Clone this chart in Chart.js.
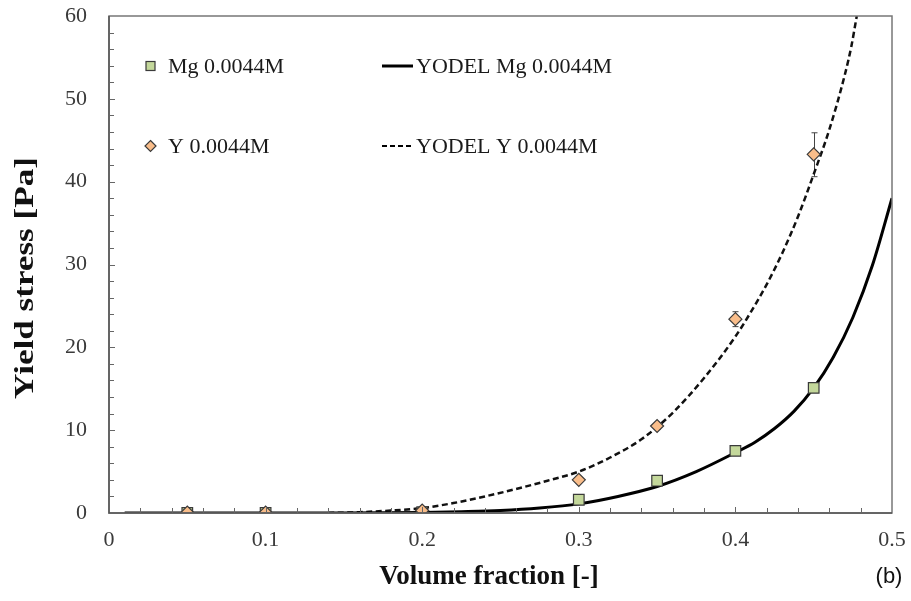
<!DOCTYPE html>
<html>
<head>
<meta charset="utf-8">
<script src="https://cdn.jsdelivr.net/npm/chart.js@4/dist/chart.umd.min.js"></script>
<style>
  html, body { margin: 0; padding: 0; background: #fff; }
  #wrap { width: 911px; height: 601px; position: relative; }
</style>
</head>
<body>
<div id="wrap"><canvas id="c" width="911" height="601"></canvas></div>
<script>
// Measured yield stress versus volume fraction
const volFrac  = [0.05, 0.1, 0.2, 0.3, 0.35, 0.4, 0.45];
const mgStress = [0, 0, 0.1, 1.6, 3.9, 7.5, 15.1];
const yStress  = [0.05, 0.05, 0.3, 4.0, 10.5, 23.4, 43.3];
const yErrUp   = [0, 0, 0, 0.2, 0.4, 0.9, 2.6];
const yErrDown = [0, 0, 0, 0.2, 0.4, 0.9, 2.7];

// YODEL model curves
const fitMgX = [0.01, 0.05, 0.1, 0.15, 0.2, 0.225, 0.25, 0.275, 0.3, 0.325, 0.35, 0.375, 0.4, 0.4125, 0.425, 0.4375, 0.45, 0.4625, 0.475, 0.4875, 0.5];
const fitMgY = [0, 0, 0, 0, 0.05, 0.15, 0.3, 0.6, 1.1, 2.0, 3.2, 5.0, 7.3, 8.55, 10.2, 12.3, 15.1, 18.8, 23.6, 29.9, 38.0];
const fitYX  = [0.14, 0.16, 0.18, 0.2, 0.22, 0.24, 0.26, 0.28, 0.3, 0.32, 0.34, 0.36, 0.38, 0.4, 0.41, 0.42, 0.43, 0.44, 0.45, 0.46, 0.47, 0.474, 0.4775];
const fitYY  = [0, 0.1, 0.3, 0.6, 1.2, 2.0, 2.9, 3.9, 5.0, 6.7, 8.9, 12.1, 16.3, 21.3, 24.3, 27.6, 31.4, 35.8, 40.9, 46.3, 53.0, 56.3, 60];

const xTickLabels = ['0', '0.1', '0.2', '0.3', '0.4', '0.5'];
const yTickLabels = ['0', '10', '20', '30', '40', '50', '60'];

const legendLabels = ['Mg 0.0044M', 'Y 0.0044M', 'YODEL Mg 0.0044M', 'YODEL Y 0.0044M'];
const xTitle = 'Volume fraction [-]';
const yTitle = 'Yield stress [Pa]';
const panelTag = '(b)';

const pts = (xs, ys) => xs.map((x, i) => ({ x: x, y: ys[i] }));

const SERIF = '"Liberation Serif", "Times New Roman", serif';
const GREEN = '#c4d89b';
const PEACH = '#f9bd8a';
const EDGE = '#3a3a3a';

// frame, inward minor ticks, error bars, legend, axis titles and panel tag
const decorations = {
  id: 'decorations',
  beforeDatasetsDraw(chart) {
    const ctx = chart.ctx;
    const xs = chart.scales.x, ys = chart.scales.y;
    ctx.save();
    ctx.strokeStyle = '#444';
    ctx.lineWidth = 1;
    volFrac.forEach((v, i) => {
      if (!yErrUp[i] && !yErrDown[i]) return;
      const px = Math.round(xs.getPixelForValue(v)) + 0.5;
      const top = ys.getPixelForValue(yStress[i] + yErrUp[i]);
      const bot = ys.getPixelForValue(yStress[i] - yErrDown[i]);
      ctx.beginPath();
      ctx.moveTo(px, top); ctx.lineTo(px, bot);
      ctx.moveTo(px - 3, top); ctx.lineTo(px + 3, top);
      ctx.moveTo(px - 3, bot); ctx.lineTo(px + 3, bot);
      ctx.stroke();
    });
    ctx.restore();
  },
  afterDraw(chart) {
    const ctx = chart.ctx;
    const a = chart.chartArea;
    const xs = chart.scales.x, ys = chart.scales.y;
    ctx.save();
    // plot frame
    ctx.strokeStyle = '#777';
    ctx.lineWidth = 1.5;
    ctx.strokeRect(a.left, a.top, a.right - a.left, a.bottom - a.top);
    ctx.strokeStyle = '#555';
    ctx.beginPath();
    ctx.moveTo(a.left, a.top); ctx.lineTo(a.left, a.bottom); ctx.lineTo(a.right, a.bottom);
    ctx.stroke();
    // inward ticks
    ctx.lineWidth = 1;
    ctx.strokeStyle = '#666';
    ctx.beginPath();
    for (let k = 1; k < 30; k++) {
      const py = Math.round(ys.getPixelForValue(k * 2)) + 0.5;
      const len = (k % 5 === 0) ? 6 : 5;
      ctx.moveTo(a.left, py); ctx.lineTo(a.left + len, py);
    }
    for (let k = 1; k < 25; k++) {
      const px = Math.round(xs.getPixelForValue(k * 0.02)) + 0.5;
      const len = (k % 5 === 0) ? 6 : 5;
      ctx.moveTo(px, a.bottom); ctx.lineTo(px, a.bottom - len);
    }
    ctx.stroke();

    // legend
    ctx.font = '22px ' + SERIF;
    ctx.textBaseline = 'middle';
    ctx.textAlign = 'left';
    const row1 = 66, row2 = 146;
    ctx.fillStyle = GREEN; ctx.strokeStyle = EDGE; ctx.lineWidth = 1.2;
    ctx.fillRect(146, row1 - 4.5, 9, 9); ctx.strokeRect(146, row1 - 4.5, 9, 9);
    ctx.fillStyle = PEACH;
    ctx.beginPath();
    ctx.moveTo(150.5, row2 - 5.5); ctx.lineTo(156, row2); ctx.lineTo(150.5, row2 + 5.5); ctx.lineTo(145, row2);
    ctx.closePath(); ctx.fill(); ctx.stroke();
    ctx.strokeStyle = '#000';
    ctx.lineWidth = 3;
    ctx.beginPath(); ctx.moveTo(382, row1); ctx.lineTo(413, row1); ctx.stroke();
    ctx.lineWidth = 2;
    ctx.setLineDash([5, 3]);
    ctx.beginPath(); ctx.moveTo(382, row2); ctx.lineTo(414, row2); ctx.stroke();
    ctx.setLineDash([]);
    ctx.fillStyle = '#1a1a1a';
    ctx.fillText(legendLabels[0], 168, row1 + 1);
    ctx.fillText(legendLabels[1], 168, row2 + 1);
    ctx.fillText(legendLabels[2], 416, row1 + 1);
    ctx.fillText(legendLabels[3], 416, row2 + 1);

    // axis titles
    ctx.fillStyle = '#111';
    ctx.textAlign = 'center';
    ctx.font = 'bold 27px ' + SERIF;
    ctx.fillText(xTitle, 489, 577);
    ctx.save();
    ctx.translate(26, 278);
    ctx.rotate(-Math.PI / 2);
    ctx.scale(1.3, 1);
    ctx.fillText(yTitle, 0, 0);
    ctx.restore();

    // panel tag
    ctx.font = '22px "Liberation Sans", Arial, sans-serif';
    ctx.fillText(panelTag, 889, 577);
    ctx.restore();
  }
};

new Chart(document.getElementById('c'), {
  type: 'scatter',
  data: {
    datasets: [
      {
        label: legendLabels[1],
        data: pts(volFrac, yStress),
        pointStyle: 'rectRot',
        pointRadius: 6.5,
        pointBackgroundColor: PEACH,
        pointBorderColor: EDGE,
        pointBorderWidth: 1.2,
        showLine: false
      },
      {
        label: legendLabels[0],
        data: pts(volFrac, mgStress),
        pointStyle: 'rect',
        pointRadius: 7.5,
        pointBackgroundColor: GREEN,
        pointBorderColor: EDGE,
        pointBorderWidth: 1.2,
        showLine: false
      },
      {
        label: legendLabels[2],
        data: pts(fitMgX, fitMgY),
        showLine: true,
        pointRadius: 0,
        borderColor: '#000',
        borderWidth: 3,
        cubicInterpolationMode: 'monotone',
        fill: false
      },
      {
        label: legendLabels[3],
        data: pts(fitYX, fitYY),
        showLine: true,
        pointRadius: 0,
        borderColor: '#111',
        borderWidth: 2.5,
        borderDash: [6, 3.5],
        cubicInterpolationMode: 'monotone',
        fill: false
      }
    ]
  },
  options: {
    responsive: false,
    animation: false,
    layout: { padding: { top: 16, right: 19, left: 0, bottom: 0 } },
    plugins: { legend: { display: false }, tooltip: { enabled: false } },
    scales: {
      x: {
        type: 'linear',
        min: 0, max: 0.5,
        afterFit(s) {
          s.height = 88;
          s.paddingLeft = 0; s.paddingRight = 0; s.paddingTop = 0; s.paddingBottom = 0;
        },
        grid: { display: false, drawTicks: false },
        border: { display: false },
        ticks: {
          stepSize: 0.1,
          padding: 14,
          color: '#3a3a3a',
          font: { family: SERIF, size: 22 },
          callback: (v) => xTickLabels[Math.round(v * 10)]
        },
        title: { display: false, text: xTitle }
      },
      y: {
        type: 'linear',
        min: 0, max: 60,
        afterFit(s) {
          s.width = 109;
          s.paddingLeft = 0; s.paddingRight = 0; s.paddingTop = 0; s.paddingBottom = 0;
        },
        grid: { display: false, drawTicks: false },
        border: { display: false },
        ticks: {
          stepSize: 10,
          padding: 22,
          color: '#3a3a3a',
          font: { family: SERIF, size: 22 },
          callback: (v) => yTickLabels[Math.round(v / 10)]
        },
        title: { display: false, text: yTitle }
      }
    }
  },
  plugins: [decorations]
});
</script>
</body>
</html>
